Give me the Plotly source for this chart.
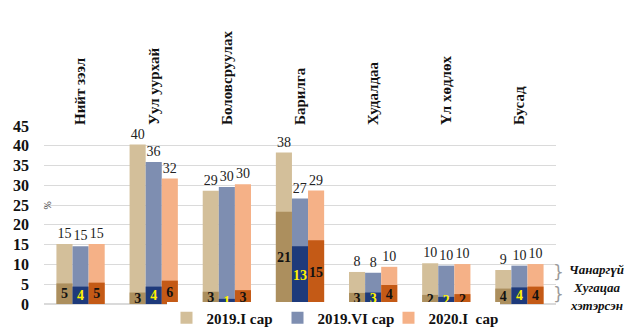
import plotly.graph_objects as go

categories = ["Нийт зээл", "Уул уурхай", "Боловсруулах", "Барилга", "Худалдаа", "Үл хөдлөх", "Бусад"]
series_names = ["2019.I сар", "2019.VI сар", "2020.I  сар"]

# total loan share (%)
total_2019_1 = [15.2, 40.3, 28.6, 38.3, 8.1, 10.3, 8.6]
total_2019_6 = [14.6, 35.9, 29.6, 26.7, 7.9, 9.7, 9.7]
total_2020_1 = [15.2, 31.7, 30.3, 28.7, 9.4, 10.1, 10.1]
total_labels_2019_1 = ["15", "40", "29", "38", "8", "10", "9"]
total_labels_2019_6 = ["15", "36", "30", "27", "8", "10", "10"]
total_labels_2020_1 = ["15", "32", "30", "29", "10", "10", "10"]

# non-performing / overdue portion (%)
npl_2019_1 = [5.2, 2.9, 3.1, 23.3, 2.8, 2.3, 3.9]
npl_2019_6 = [4.4, 4.4, 1.3, 14.6, 2.9, 1.8, 4.2]
npl_2020_1 = [5.4, 5.9, 3.5, 16.1, 4.8, 2.5, 4.4]
npl_labels_2019_1 = ["5", "3", "3", "21", "3", "2", "4"]
npl_labels_2019_6 = ["4", "4", "1", "13", "3", "2", "4"]
npl_labels_2020_1 = ["5", "6", "3", "15", "4", "2", "4"]

SERIF = "Liberation Serif, Times New Roman, serif"
light_colors = ["#D3BF9A", "#7E8EB1", "#F5B187"]
dark_colors = ["#AC8F5E", "#1E3A7B", "#C45A16"]
dark_text_colors = ["#111111", "#FFF200", "#111111"]
offsets = [-0.33, -0.11, 0.11]
width = 0.22

totals = [total_2019_1, total_2019_6, total_2020_1]
total_labels = [total_labels_2019_1, total_labels_2019_6, total_labels_2020_1]
npls = [npl_2019_1, npl_2019_6, npl_2020_1]
npl_labels = [npl_labels_2019_1, npl_labels_2019_6, npl_labels_2020_1]

fig = go.Figure()
for i in range(3):
    fig.add_trace(go.Bar(
        x=categories, y=totals[i], name=series_names[i],
        marker=dict(color=light_colors[i], line=dict(width=0)),
        width=width, offset=offsets[i],
        text=total_labels[i], textposition="outside", constraintext="none",
        textfont=dict(family=SERIF, size=15, color="#222222"),
        cliponaxis=False, showlegend=True,
    ))
for i in range(3):
    fig.add_trace(go.Bar(
        x=categories, y=npls[i], name=series_names[i] + " (хэтэрсэн)",
        marker=dict(color=dark_colors[i], line=dict(width=0)),
        width=width, offset=offsets[i],
        text=npl_labels[i], textposition="inside", insidetextanchor="middle",
        constraintext="none", textangle=0,
        textfont=dict(family=SERIF, size=14, color=dark_text_colors[i], weight="bold"),
        cliponaxis=False, showlegend=False,
    ))

fig.update_layout(
    barmode="overlay",
    width=637, height=327,
    margin=dict(l=44, r=81, t=126, b=23, autoexpand=False),
    paper_bgcolor="white", plot_bgcolor="white",
    font=dict(family=SERIF, size=14, color="#111111"),
    uniformtext=dict(minsize=13, mode="show"),
    legend=dict(orientation="h", x=(333 - 44) / 512, xanchor="center",
                yref="container", y=(327 - 318) / 327, yanchor="middle",
                font=dict(family=SERIF, size=15, weight="bold", color="#111111"),
                itemwidth=30, entrywidth=66, traceorder="normal"),
    xaxis=dict(side="top", tickangle=-90, showgrid=False, showline=False, ticks="",
               tickfont=dict(family=SERIF, size=15, weight="bold", color="#111111"),
               range=[-0.5, 6.5]),
    yaxis=dict(range=[0, 45], dtick=5, showgrid=True, gridcolor="#DADADA", gridwidth=1,
               zeroline=True, zerolinecolor="#DADADA", showline=False,
               ticklabelstandoff=14,
               tickfont=dict(family=SERIF, size=16, weight="bold", color="#111111")),
)

fig.add_annotation(text="%", xref="paper", yref="y", x=-0.008, y=25, showarrow=False,
                   textangle=-90, font=dict(family=SERIF, size=10, color="#333333"))

notes = [("Чанаргүй", 269), ("Хугацаа", 287), ("хэтэрсэн", 305)]
for txt, py in notes:
    fig.add_annotation(text="<b><i>" + txt + "</i></b>", xref="paper", yref="paper",
                       x=(596 - 44) / 512, y=(304 - py) / 178, showarrow=False,
                       xanchor="center", yanchor="middle",
                       font=dict(family=SERIF, size=13, color="#111111"))
for py in [272, 294]:
    fig.add_annotation(text="}", xref="paper", yref="paper",
                       x=(558 - 44) / 512, y=(304 - py) / 178, showarrow=False,
                       xanchor="center", yanchor="middle",
                       font=dict(family="DejaVu Sans", size=17, color="#9A9A9A"))

fig.write_html("out.html")
